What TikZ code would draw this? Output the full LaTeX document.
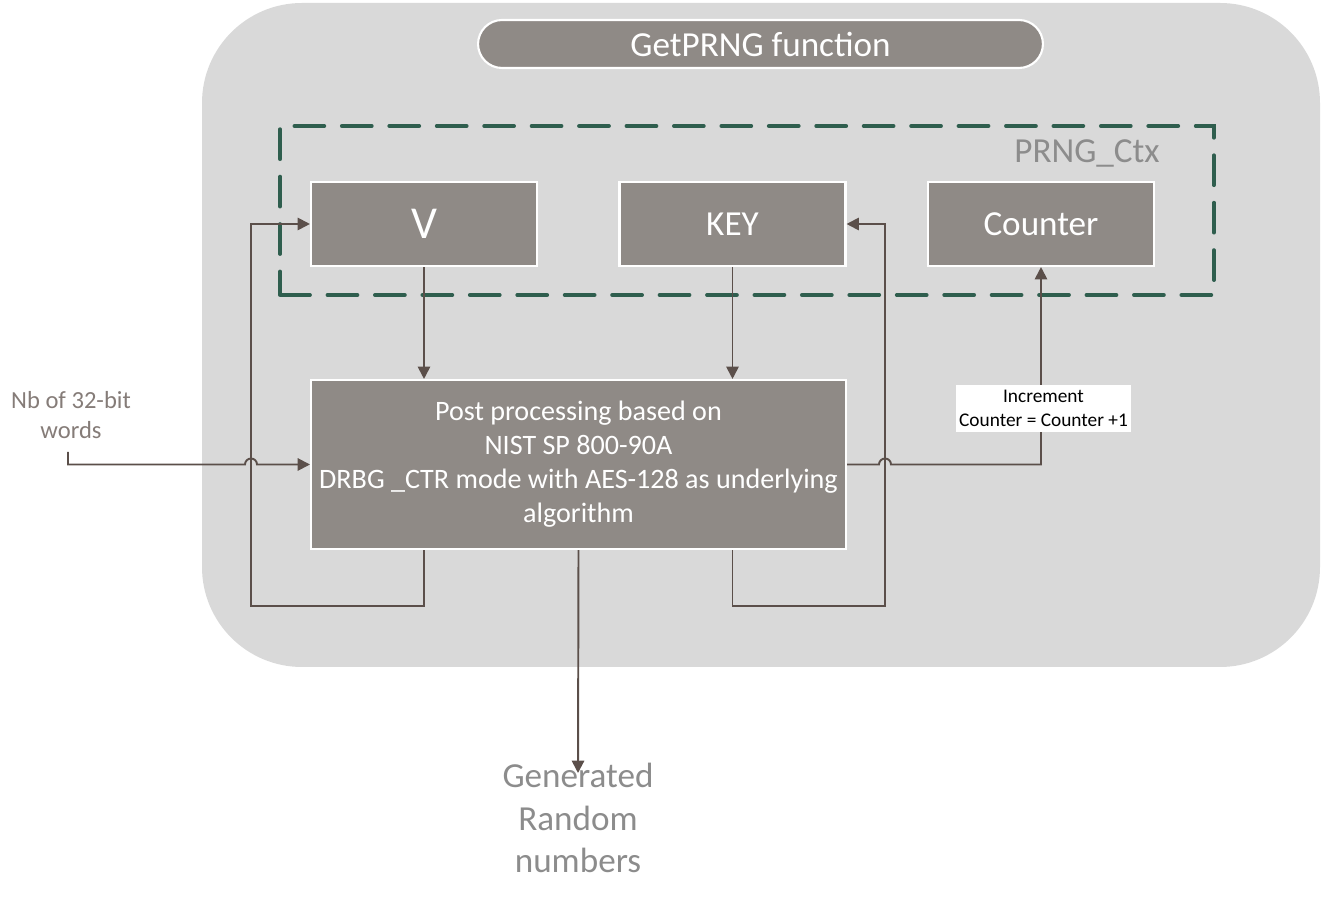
\documentclass[tikz,border=0pt]{standalone}
\usepackage{fontspec}
\setmainfont{Carlito}
\usetikzlibrary{arrows.meta}
\definecolor{boxgray}{HTML}{8F8A86}
\definecolor{panel}{HTML}{D9D9D9}
\definecolor{wire}{HTML}{5B4F4A}
\definecolor{ctxgreen}{HTML}{2F5E4E}
\definecolor{labelgray}{HTML}{8C8C8C}
\definecolor{nbgray}{HTML}{857C78}

\begin{document}
\begin{tikzpicture}[x=0.02cm, y=0.02cm]
\tikzstyle{every node}+=[inner sep=0pt]
\tikzstyle{block}=[draw=white, line width=1.2pt, fill=boxgray, text=white, minimum width=4.52cm, minimum height=1.68cm]
\tikzstyle{wireline}=[wire, line width=1.1pt]
\tikzstyle{arrow}=[wireline, -{Triangle[length=7pt,width=7pt]}]
\useasboundingbox (0,0) rectangle (1323,-901);
\fill [panel, rounded corners=2cm] (202,-3) rectangle (1320,-667);
\node (title) [draw=white, line width=1.2pt, fill=boxgray, rounded corners=0.48cm, minimum width=11.3cm, minimum height=0.96cm, text=white, font=\fontsize{20}{24}\selectfont] at (760.5,-44) {GetPRNG function};
\node (ctx) [draw=ctxgreen, line width=2.2pt, dash pattern=on 17pt off 10pt, line cap=round, minimum width=18.68cm, minimum height=3.38cm] at (747,-210.5) {};
\node (ctxlabel) [text=labelgray, font=\fontsize{20}{24}\selectfont] at (1087,-153) {PRNG\_Ctx};
\node (v) [block, font=\fontsize{26}{30}\selectfont] at (424,-224) {V};
\node (key) [block, font=\fontsize{20}{24}\selectfont] at (732.5,-224) {KEY};
\node (counter) [block, font=\fontsize{20}{24}\selectfont] at (1041,-224) {Counter};
\node (post) [block, minimum width=10.7cm, minimum height=3.38cm, align=center, font=\fontsize{16}{19.3}\selectfont] at (578.5,-464.5) {Post processing based on\\NIST SP 800-90A\\DRBG \_CTR mode with AES-128 as underlying\\algorithm};
\node (nb) [text=nbgray, align=center, font=\fontsize{14}{17}\selectfont] at (71,-415) {Nb of 32-bit\\words};
\node (gen) [text=labelgray, align=center, font=\fontsize{20}{24.4}\selectfont] at (578,-818) {Generated\\Random\\numbers};
\coordinate (nbin) at (68,-452);
\coordinate (genin) at (578,-773);
% V and KEY into the post processing
\draw [arrow] (v.south) -- (v.south |- post.north);
\draw [arrow] (key.south) -- (key.south |- post.north);
% feedback loops
\draw [arrow] (v.south |- post.south) -- (424,-606) -- (251,-606) -- (251,-224) -- (v.west);
\draw [arrow] (key.south |- post.south) -- (732.5,-606) -- (885,-606) -- (885,-224) -- (key.east);
% input and counter update
\draw [arrow] (nbin) -- (nbin |- post.west) -- (245,-464.5) arc (180:0:6) -- (post.west);
\draw [arrow] (post.east) -- (879,-464.5) arc (180:0:6) -- (counter.south |- post.east) -- (counter.south);
\draw [arrow] (post.south) -- (genin);
\node (incr) [fill=white, align=center, minimum width=3.5cm, minimum height=0.94cm, font=\fontsize{11}{13.4}\selectfont] at (1043.5,-408.5) {Increment\\Counter = Counter +1};
\end{tikzpicture}
\end{document}
